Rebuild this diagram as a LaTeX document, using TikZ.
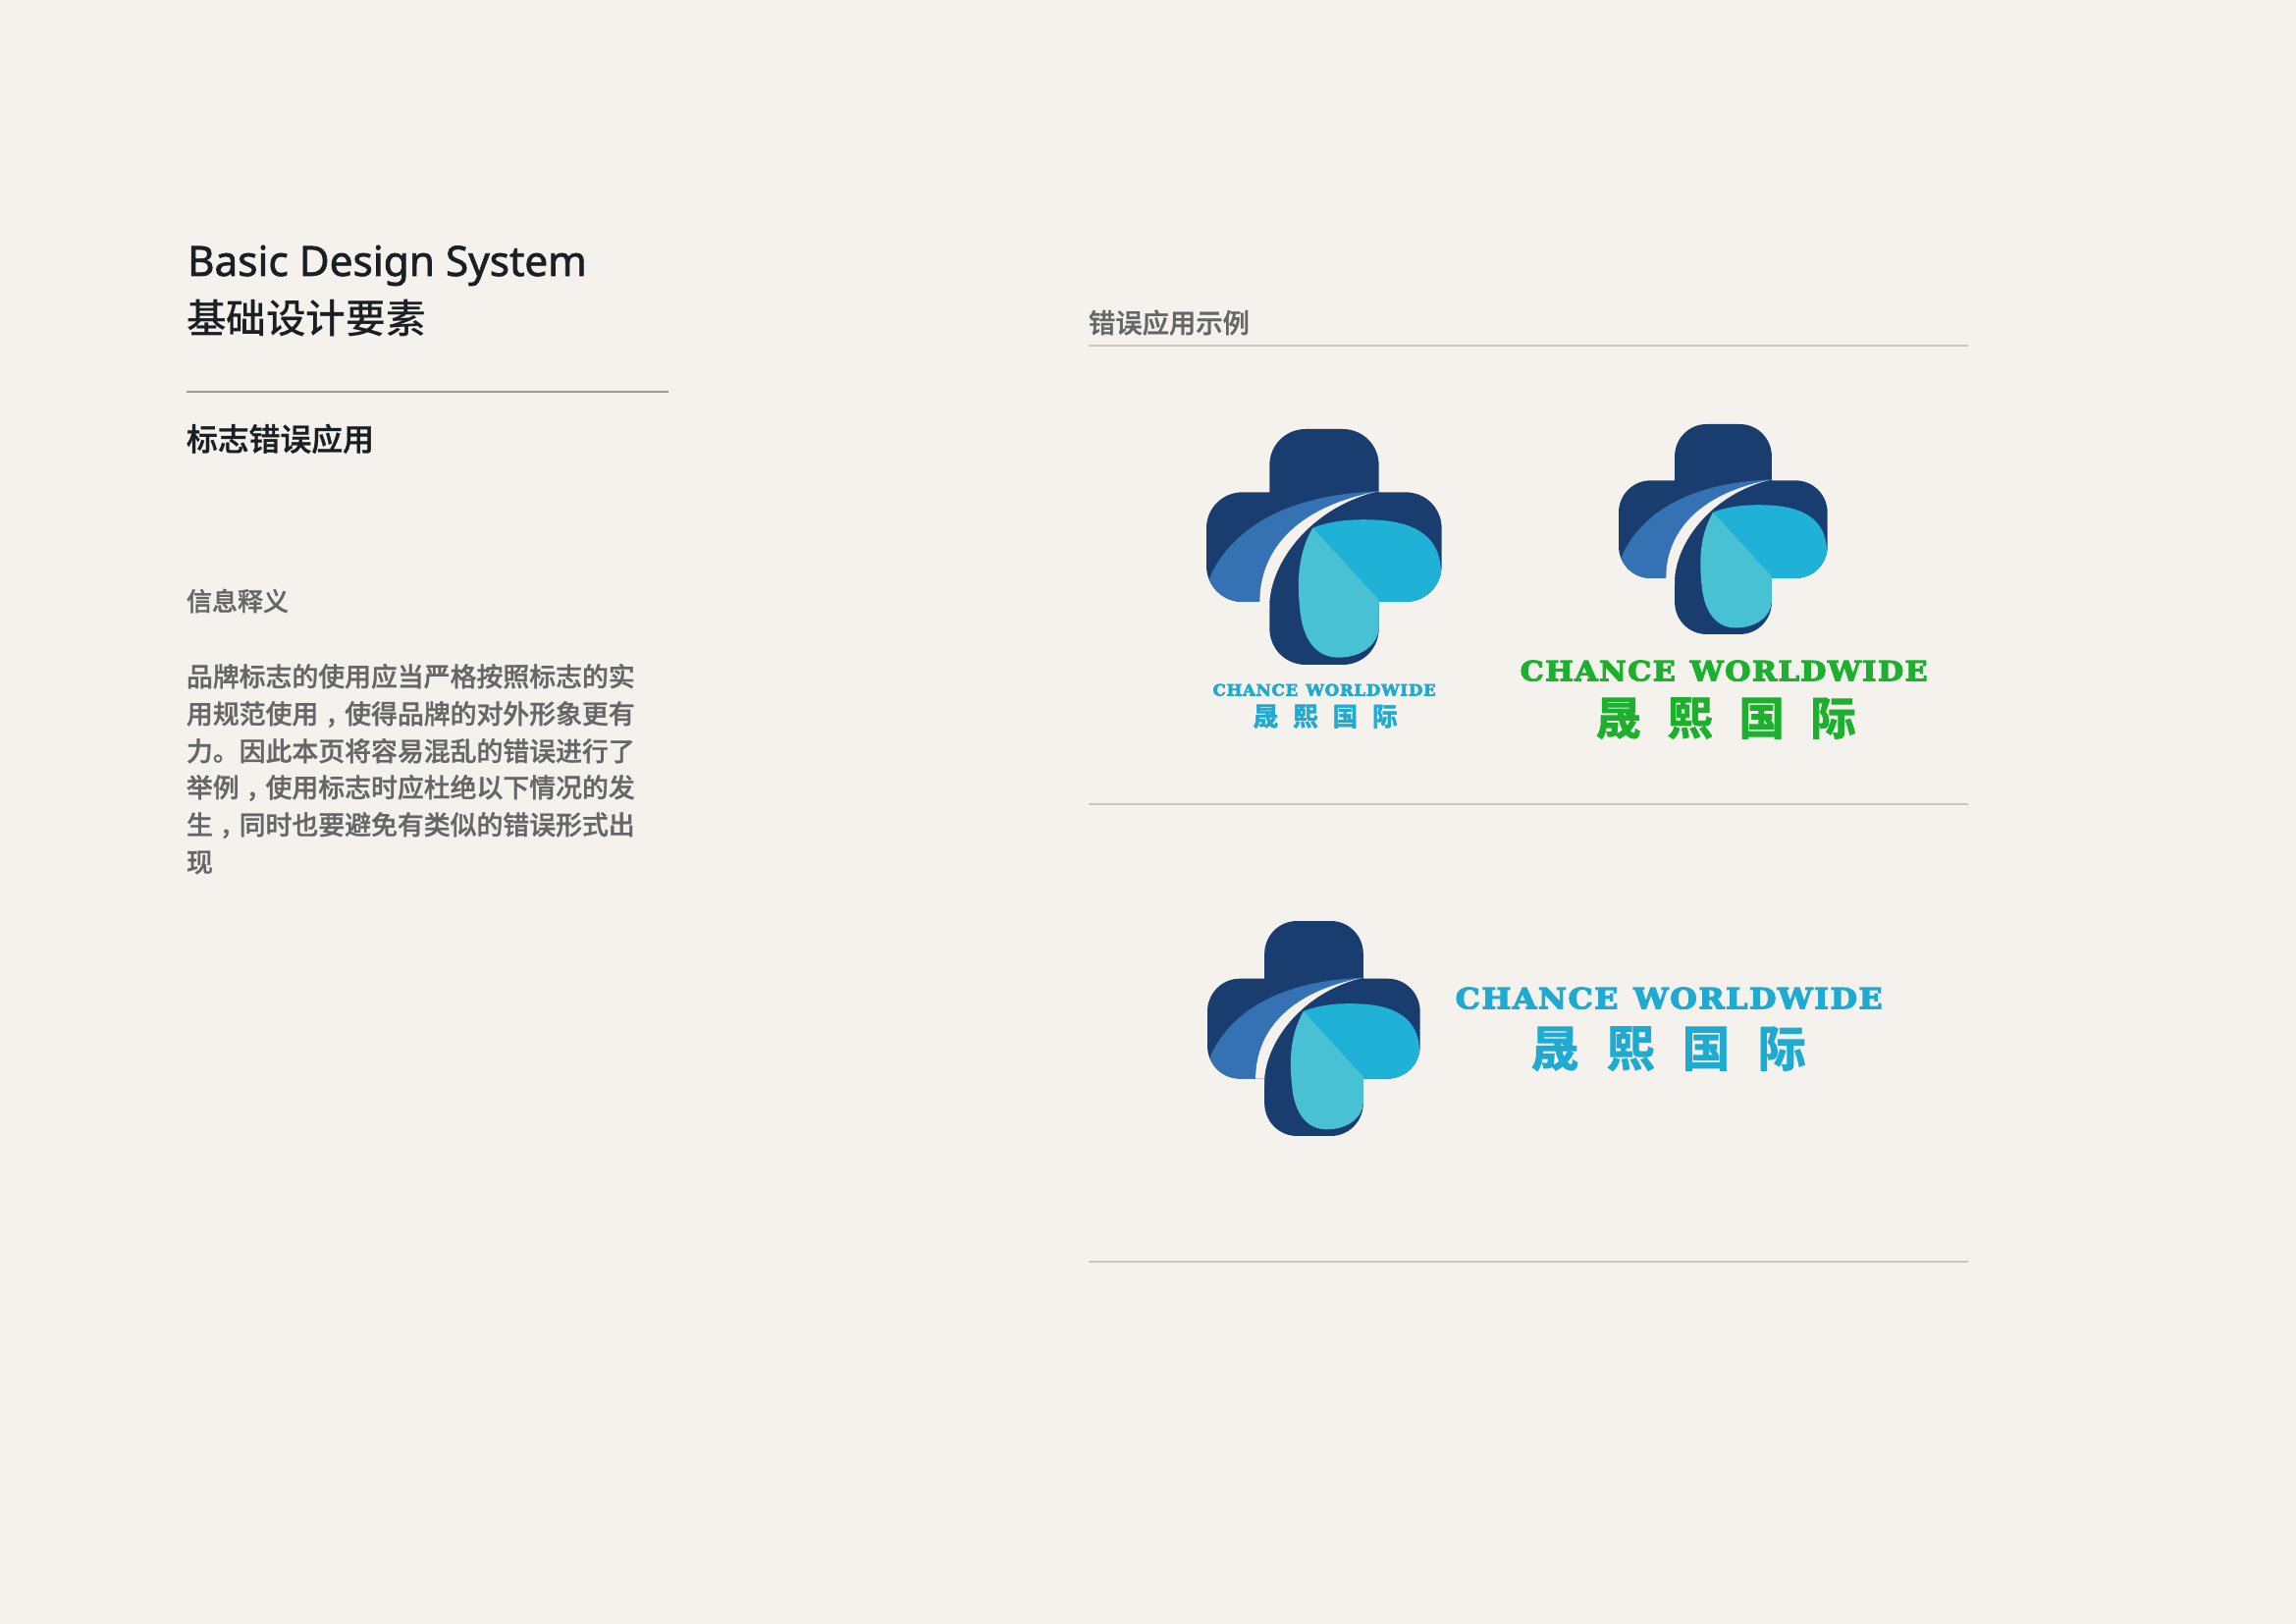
\documentclass[tikz,border=0pt]{standalone}
\usepackage{fontspec}
\usepackage{graphicx}
\setmainfont{Noto Sans}
\newfontfamily\cjk{Noto Sans CJK SC}
\newfontfamily\cjkm{Noto Sans CJK SC Medium}
\newfontfamily\cjkb{Noto Sans CJK SC Bold}
\newfontfamily\bodycn{Noto Sans CJK SC Medium}[FakeBold=1]
\newfontfamily\logofont{DejaVu Serif Bold}[FakeBold=4]
\newfontfamily\logocn{Noto Sans CJK SC Bold}[FakeBold=2]
\newfontfamily\titlefont{Noto Sans}[FakeBold=1.6]
\definecolor{pagebg}{HTML}{F5F2ED}
\definecolor{navy}{HTML}{1A3D70}
\definecolor{midblue}{HTML}{3572B3}
\definecolor{cyanA}{HTML}{1FB2D6}
\definecolor{cyanB}{HTML}{48C1D4}
\definecolor{logogreen}{HTML}{1DB02F}
\definecolor{logocyan}{HTML}{1FAAD2}
\definecolor{inkdark}{HTML}{1A1F24}
\definecolor{inkgray}{HTML}{666666}
\tikzset{
  x=0.3pt,y=-0.3pt,
  txt/.style={inner sep=0pt,outer sep=0pt,anchor=base west,align=left},
  rulefaint/.style={draw=black!18!pagebg,line width=0.6pt},
  ruledark/.style={draw=black!36!pagebg,line width=0.6pt},
  logotext/.style={inner sep=0pt,anchor=north west},
}
% #1 left, #2 top, #3 width px, #4 height px
\newcommand{\logomark}[4]{%
\begin{scope}[shift={(#1,#2)},x=#3*0.3pt/720,y=-#4*0.3pt/720,shift={(-87,-50)}]
\def\crosspath{(280,160) .. controls (280,99) and (329,50) .. (390,50) -- (504,50) .. controls (565,50) and (614,99) .. (614,160) -- (614,243) -- (696,243) .. controls (757,243) and (806,292) .. (806,353) -- (806,468) .. controls (806,529) and (757,578) .. (696,578) -- (614,578) -- (614,660) .. controls (614,721) and (565,770) .. (504,770) -- (390,770) .. controls (329,770) and (280,721) .. (280,660) -- (280,578) -- (197,578) .. controls (136,578) and (87,529) .. (87,468) -- (87,353) .. controls (87,292) and (136,243) .. (197,243) -- (280,243) -- cycle}
\fill[navy] \crosspath;
\begin{scope}
\clip \crosspath;
\fill[midblue] (612,240) .. controls (350,250) and (180,340) .. (104,488) -- (60,600) -- (250,600) -- (250,578) .. controls (250,430) and (350,290) .. (612,240) -- cycle;
\fill[pagebg] (250,600) -- (250,578) .. controls (250,430) and (350,290) .. (612,240) .. controls (420,285) and (290,440) .. (280,578) -- (280,600) -- cycle;
\fill[cyanA] (412,352) .. controls (480,325) and (560,325) .. (610,328) .. controls (740,335) and (796,390) .. (803,470) -- (830,600) -- (608,600) -- (608,578) -- cycle;
\fill[cyanB] (412,352) -- (614,572) -- (640,640) -- (614,660) .. controls (610,710) and (560,748) .. (490,748) .. controls (420,748) and (385,690) .. (375,620) .. controls (365,540) and (360,440) .. (412,352) -- cycle;
\end{scope}
\end{scope}}
\newcommand{\fitbox}[3]{\resizebox*{#1\dimexpr0.3pt\relax}{#2\dimexpr0.3pt\relax}{#3}}
\newcommand{\enlogo}{\logofont\addfontfeature{LetterSpace=5}CHANCE\hspace{.5em}WORLDWIDE}
\newcommand{\cnlogo}{\logocn 晟\hspace{.58em}熙\hspace{.58em}国\hspace{.58em}际}
\newcommand{\bodyfont}{\bodycn\fontsize{8.06pt}{10pt}\selectfont}
\newcommand{\cmm}{\makebox[1em][c]{\raisebox{0.05em}{,}}}
\begin{document}
\begin{tikzpicture}
\useasboundingbox (0,0) rectangle (2339,1654);
\fill[pagebg] (0,0) rectangle (2339,1654);
% rules
\coordinate (r1a) at (190,399); \coordinate (r1b) at (681,399);
\coordinate (r2a) at (1109,352); \coordinate (r2b) at (2005,352);
\coordinate (r3a) at (1109,819); \coordinate (r3b) at (2005,819);
\coordinate (r4a) at (1109,1285); \coordinate (r4b) at (2005,1285);
\draw[ruledark] (r1a) -- (r1b);
\draw[rulefaint] (r2a) -- (r2b);
\draw[rulefaint] (r3a) -- (r3b);
\draw[rulefaint] (r4a) -- (r4b);
% left column
\node[txt,text=inkdark] (title) at (191,281) {\titlefont\fontsize{12.7pt}{14pt}\selectfont Basic Design System};
\node[txt,text=inkdark] (titlecn) at (190,340) {\cjkm\fontsize{12.2pt}{14pt}\selectfont 基础设计要素};
\node[txt,text=inkdark] (sub) at (190,459) {\bodycn\fontsize{9.55pt}{11pt}\selectfont 标志错误应用};
\node[txt,text=inkgray] (info) at (190,622) {\bodycn\fontsize{7.8pt}{10pt}\selectfont 信息释义};
\node[txt,text=inkgray] (b1) at (190,699) {\bodyfont 品牌标志的使用应当严格按照标志的实};
\node[txt,text=inkgray] (b2) at (190,737) {\bodyfont 用规范使用\cmm 使得品牌的对外形象更有};
\node[txt,text=inkgray] (b3) at (190,775) {\bodyfont 力。因此本页将容易混乱的错误进行了};
\node[txt,text=inkgray] (b4) at (190,812) {\bodyfont 举例\cmm 使用标志时应杜绝以下情况的发};
\node[txt,text=inkgray] (b5) at (190,850) {\bodyfont 生\cmm 同时也要避免有类似的错误形式出};
\node[txt,text=inkgray] (b6) at (190,888) {\bodyfont 现};
\node[txt,text=inkgray] (head) at (1109,339) {\bodycn\fontsize{8.2pt}{10pt}\selectfont 错误应用示例};
% logos
\logomark{1229}{437}{240}{240}
\logomark{1649}{432}{213}{214}
\logomark{1230}{938}{217}{219}
% logo texts
\node[logotext,text=logocyan] (en1) at (1235,696) {\fitbox{227}{12}{\enlogo}};
\node[logotext,text=logocyan] (cn1) at (1276,717) {\fitbox{147}{24}{\cnlogo}};
\node[logotext,text=logogreen] (en2) at (1548,672) {\fitbox{415}{21}{\enlogo}};
\node[logotext,text=logogreen] (cn2) at (1625,710) {\fitbox{265}{42}{\cnlogo}};
\node[logotext,text=logocyan] (en3) at (1482,1005) {\fitbox{435}{22}{\enlogo}};
\node[logotext,text=logocyan] (cn3) at (1559,1045) {\fitbox{280}{45}{\cnlogo}};
\end{tikzpicture}
\end{document}
